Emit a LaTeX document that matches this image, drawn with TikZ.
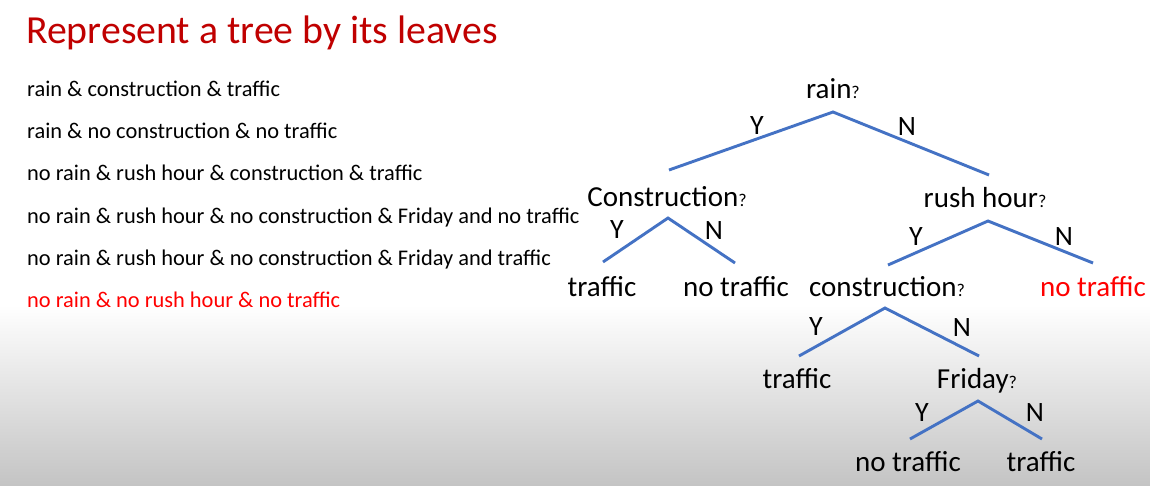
\documentclass[tikz,border=0pt]{standalone}
\usepackage{fontspec}
\setmainfont{Carlito}
\usetikzlibrary{calc}
\definecolor{titlered}{HTML}{C00000}
\definecolor{brightred}{HTML}{FF0000}
\definecolor{branch}{HTML}{4472C4}
\definecolor{floor}{RGB}{196,196,196}
\newcommand\qmark{{\fontsize{18}{20}\selectfont ?}}
\begin{document}
\begin{tikzpicture}[x=1pt,y=-1pt,
  txt/.style={inner sep=0pt,anchor=base},
  leaf/.style={txt,font=\fontsize{22.4}{24}\selectfont,anchor=base west},
  tnode/.style={txt,font=\fontsize{29}{31}\selectfont},
  yn/.style={inner sep=0pt,font=\fontsize{28}{30}\selectfont},
  edge/.style={draw=branch,line width=2.9pt}]
  % page with a soft grey fade at the bottom
  \useasboundingbox (0,0) rectangle (1150,485);
  \fill[white] (0,0) rectangle (1150,306);
  \shade[top color=white,bottom color=floor] (0,305) rectangle (1150,485);

  % heading
  \node[txt,anchor=base west,text=titlered,font=\fontsize{39.8}{42}\selectfont] (title) at (26,43) {Represent a tree by its leaves};

  % the leaves written out as paths
  \node[leaf] (p1) at (27,96)  {rain \& construction \& traffic};
  \node[leaf] (p2) at (27,138) {rain \& no construction \& no traffic};
  \node[leaf] (p3) at (27,180) {no rain \& rush hour \& construction \& traffic};
  \node[leaf] (p4) at (27,223) {no rain \& rush hour \& no construction \& Friday and no traffic};
  \node[leaf] (p5) at (27,265) {no rain \& rush hour \& no construction \& Friday and traffic};
  \node[leaf,text=brightred] (p6) at (27,307) {no rain \& no rush hour \& no traffic};

  % tree nodes
  \node[tnode] (rain) at (833,98) {rain\qmark};
  \node[tnode] (cons1) at (667,206) {Construction\qmark};
  \node[tnode] (rush) at (985,207) {rush hour\qmark};
  \node[tnode] (t1) at (602,296) {traffic};
  \node[tnode] (nt1) at (736,296) {no traffic};
  \node[tnode] (cons2) at (887,296) {construction\qmark};
  \node[tnode,text=brightred] (nt2) at (1093,296) {no traffic};
  \node[tnode] (t2) at (797,388) {traffic};
  \node[tnode] (fri) at (977,388) {Friday\qmark};
  \node[tnode] (nt3) at (908,471) {no traffic};
  \node[tnode] (t3) at (1041,471) {traffic};

  % branch points under each question and ends above each answer
  \coordinate (rainA) at (833,112);
  \coordinate (rainY) at (669,170);
  \coordinate (rainN) at (989,175);
  \coordinate (cons1A) at (668,218);
  \coordinate (cons1Y) at (603,262);
  \coordinate (cons1N) at (735,263);
  \coordinate (rushA) at (988,221);
  \coordinate (rushY) at (888,265);
  \coordinate (rushN) at (1093,263);
  \coordinate (cons2A) at (885,308);
  \coordinate (cons2Y) at (799,356);
  \coordinate (cons2N) at (979,356);
  \coordinate (friA) at (978,401);
  \coordinate (friY) at (910,439);
  \coordinate (friN) at (1042,439);

  % branches
  \draw[edge] (rainY) -- (rainA) -- (rainN);
  \draw[edge] (cons1Y) -- (cons1A) -- (cons1N);
  \draw[edge] (rushY) -- (rushA) -- (rushN);
  \draw[edge] (cons2Y) -- (cons2A) -- (cons2N);
  \draw[edge] (friY) -- (friA) -- (friN);

  % yes / no labels
  \node[yn] (rainYl) at (757,126) {Y};
  \node[yn] (rainNl) at (907,127) {N};
  \node[yn] (cons1Yl) at (617,230) {Y};
  \node[yn] (cons1Nl) at (714,231) {N};
  \node[yn] (rushYl) at (916,237) {Y};
  \node[yn] (rushNl) at (1064,237) {N};
  \node[yn] (cons2Yl) at (816,327) {Y};
  \node[yn] (cons2Nl) at (962,328) {N};
  \node[yn] (friYl) at (922,413) {Y};
  \node[yn] (friNl) at (1035,413) {N};
\end{tikzpicture}
\end{document}
